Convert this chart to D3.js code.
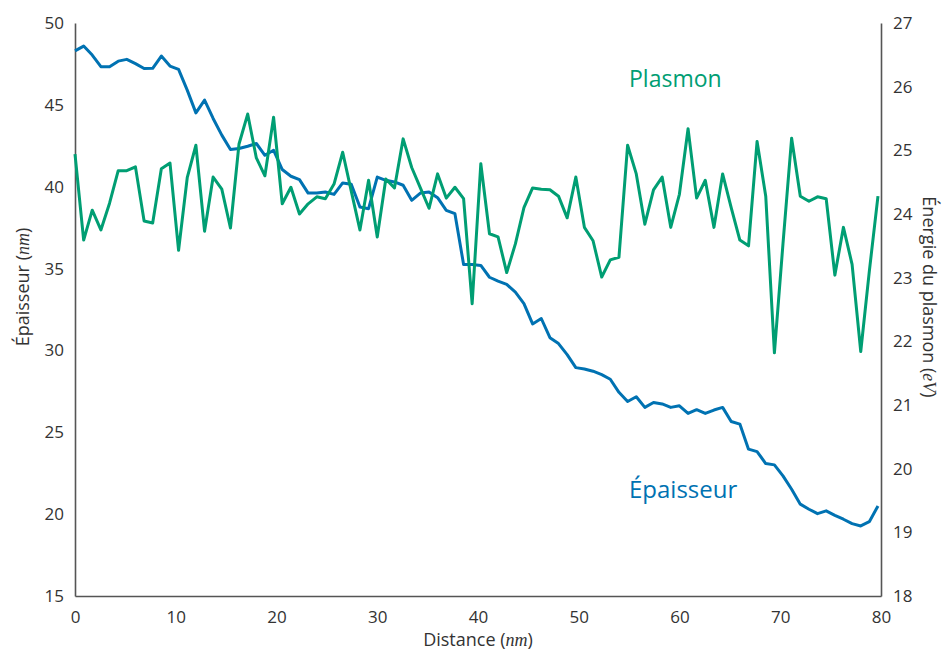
<!DOCTYPE html>
<html><head><meta charset="utf-8">
<script src="https://cdn.jsdelivr.net/npm/d3@7"></script>
<style>
body{margin:0;background:#fff;}
svg text{font-family:"Open Sans",sans-serif;}
</style></head>
<body><svg id="c" width="945" height="652"></svg>
<script>
const distance = [0,0.86,1.71,2.57,3.43,4.29,5.14,6.00,6.86,7.71,
8.57,9.43,10.28,11.14,12.00,12.86,13.71,14.57,15.43,16.28,
17.14,18.00,18.85,19.71,20.57,21.43,22.28,23.14,24.00,24.85,
25.71,26.57,27.42,28.28,29.14,30.00,30.85,31.71,32.57,33.42,
34.28,35.14,35.99,36.85,37.71,38.57,39.42,40.28,41.14,41.99,
42.85,43.71,44.56,45.42,46.28,47.14,47.99,48.85,49.71,50.56,
51.42,52.28,53.13,53.99,54.85,55.71,56.56,57.42,58.28,59.13,
59.99,60.85,61.70,62.56,63.42,64.28,65.13,65.99,66.85,67.70,
68.56,69.42,70.27,71.13,71.99,72.85,73.70,74.56,75.42,76.27,
77.13,77.99,78.84,79.70];

const epaisseur = [48.30,48.59,48.04,47.33,47.33,47.67,47.78,47.52,47.22,47.23,
47.98,47.37,47.17,45.90,44.51,45.29,44.17,43.15,42.27,42.33,
42.47,42.64,41.92,42.23,41.05,40.64,40.43,39.61,39.61,39.68,
39.53,40.23,40.15,38.76,38.66,40.59,40.39,40.29,40.09,39.17,
39.61,39.68,39.33,38.56,38.35,35.25,35.25,35.19,34.47,34.23,
34.03,33.56,32.86,31.62,31.95,30.78,30.42,29.74,28.95,28.87,
28.73,28.52,28.24,27.44,26.88,27.17,26.52,26.82,26.73,26.52,
26.62,26.15,26.38,26.15,26.36,26.52,25.66,25.50,23.97,23.82,
23.09,23.01,22.34,21.52,20.61,20.30,20.03,20.20,19.93,19.69,
19.42,19.28,19.54,20.50];

const plasmon = [24.94,23.59,24.06,23.75,24.17,24.68,24.68,24.74,23.89,23.86,
24.71,24.80,23.43,24.57,25.08,23.73,24.58,24.39,23.78,25.10,
25.57,24.88,24.60,25.52,24.16,24.42,24.00,24.16,24.27,24.24,
24.47,24.97,24.36,23.75,24.53,23.64,24.55,24.41,25.18,24.73,
24.41,24.09,24.63,24.25,24.42,24.24,22.59,24.79,23.69,23.64,
23.08,23.53,24.10,24.41,24.39,24.38,24.28,23.94,24.58,23.79,
23.58,23.01,23.28,23.32,25.08,24.63,23.84,24.38,24.58,23.79,
24.31,25.34,24.25,24.53,23.79,24.63,24.10,23.59,23.50,25.14,
24.28,21.82,23.53,25.19,24.28,24.20,24.27,24.24,23.04,23.79,
23.21,21.84,23.10,24.28];

const xTicks = [0,10,20,30,40,50,60,70,80];
const leftTicks = [15,20,25,30,35,40,45,50];
const rightTicks = [18,19,20,21,22,23,24,25,26,27];

const blue = "#0072B2", green = "#009E73", axisCol = "#555", textCol = "#333";
const L = 75, R = 881, T = 23, B = 596;

const svg = d3.select("#c");
const x = d3.scaleLinear().domain([0,80]).range([L,R]);
const yL = d3.scaleLinear().domain([15,50]).range([B,T]);
const yR = d3.scaleLinear().domain([18,27]).range([B,T]);

// axes
const xAxis = svg.append("g").attr("transform",`translate(0,${B})`)
  .call(d3.axisBottom(x).tickValues(xTicks).tickSize(0).tickPadding(12));
const lAxis = svg.append("g").attr("transform",`translate(${L},0)`)
  .call(d3.axisLeft(yL).tickValues(leftTicks).tickSize(0).tickPadding(11));
const rAxis = svg.append("g").attr("transform",`translate(${R},0)`)
  .call(d3.axisRight(yR).tickValues(rightTicks).tickSize(0).tickPadding(12));
[xAxis,lAxis,rAxis].forEach(g=>{
  g.select(".domain").attr("stroke",axisCol).attr("stroke-width",1.6);
  g.selectAll("text").attr("fill",textCol).style("font-size","17px");
});
xAxis.selectAll("text").attr("dy","0.9em");

// lines
const lineL = d3.line().x((d,i)=>x(distance[i])).y(d=>yL(d));
const lineR = d3.line().x((d,i)=>x(distance[i])).y(d=>yR(d));
svg.append("path").datum(epaisseur).attr("d",lineL)
  .attr("fill","none").attr("stroke",blue).attr("stroke-width",3).attr("stroke-linejoin","round");
svg.append("path").datum(plasmon).attr("d",lineR)
  .attr("fill","none").attr("stroke",green).attr("stroke-width",3).attr("stroke-linejoin","round");

// series labels
svg.append("text").attr("x",629).attr("y",87).attr("fill",green)
  .style("font-size","23px").text("Plasmon");
svg.append("text").attr("x",629).attr("y",498).attr("fill",blue)
  .style("font-size","24px").text("Épaisseur");

// axis titles
function title(t, unit){
  t.append("tspan").text(t.attr("data-l"));
  t.append("tspan").text("(");
  t.append("tspan").style("font-family","'Liberation Serif',serif").style("font-style","italic").text(unit);
  t.append("tspan").text(")");
}
const xt = svg.append("text").attr("x",(L+R)/2).attr("y",646).attr("text-anchor","middle")
  .attr("fill",textCol).style("font-size","18px").attr("data-l","Distance ");
title(xt,"nm");
const lt = svg.append("text").attr("transform","translate(29,287) rotate(-90)").attr("text-anchor","middle")
  .attr("fill",textCol).style("font-size","18px").attr("data-l","Épaisseur ");
title(lt,"nm");
const rt = svg.append("text").attr("transform","translate(923,297) rotate(90)").attr("text-anchor","middle")
  .attr("fill",textCol).style("font-size","18px").attr("data-l","Énergie du plasmon ");
title(rt,"eV");
</script></body></html>
